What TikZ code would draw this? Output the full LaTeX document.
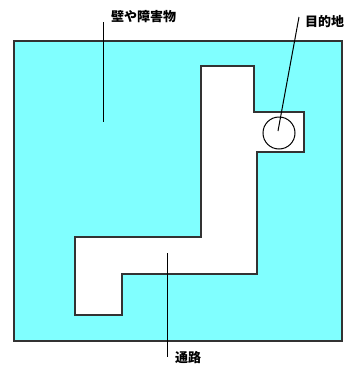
\documentclass[tikz,border=0pt]{standalone}
\usepackage{fontspec}
\newfontfamily\cjk{Noto Sans CJK JP}
\definecolor{floor}{HTML}{80FFFF}
\definecolor{edge}{HTML}{333333}
\begin{document}
\begin{tikzpicture}[x=1pt,y=-1pt,
  wall/.style={fill=floor,draw=edge,line width=1.2pt},
  path/.style={fill=white,draw=edge,line width=1.2pt},
  leader/.style={draw=black,line width=1pt},
  lbl/.style={font=\cjk\bfseries\fontsize{13}{13}\selectfont,inner sep=0pt,anchor=west}]
\useasboundingbox (0,0) rectangle (356,365);
\draw[wall] (14,41) rectangle (342,341);
\draw[path] (201,66) -- (254,66) -- (254,112) -- (304,112) -- (304,152) -- (257,152)
  -- (257,274) -- (122,274) -- (122,315) -- (75,315) -- (75,237) -- (201,237) -- cycle;
\node[draw=black,line width=1pt,circle,minimum size=32pt,inner sep=0pt] (goal) at (279,133) {};
\node[lbl] (wallt) at (111,17) {壁や障害物};
\node[lbl] (goalt) at (305,22) {目的地};
\node[lbl] (roadt) at (175,358) {通路};
\coordinate (w1) at (103,22);
\coordinate (w2) at (103,122);
\coordinate (g1) at (299,17);
\coordinate (g2) at (278,131);
\coordinate (r1) at (167,253);
\coordinate (r2) at (167,357);
\draw[leader] (w1) -- (w2);
\draw[leader] (g1) -- (g2);
\draw[leader] (r1) -- (r2);
\end{tikzpicture}
\end{document}
